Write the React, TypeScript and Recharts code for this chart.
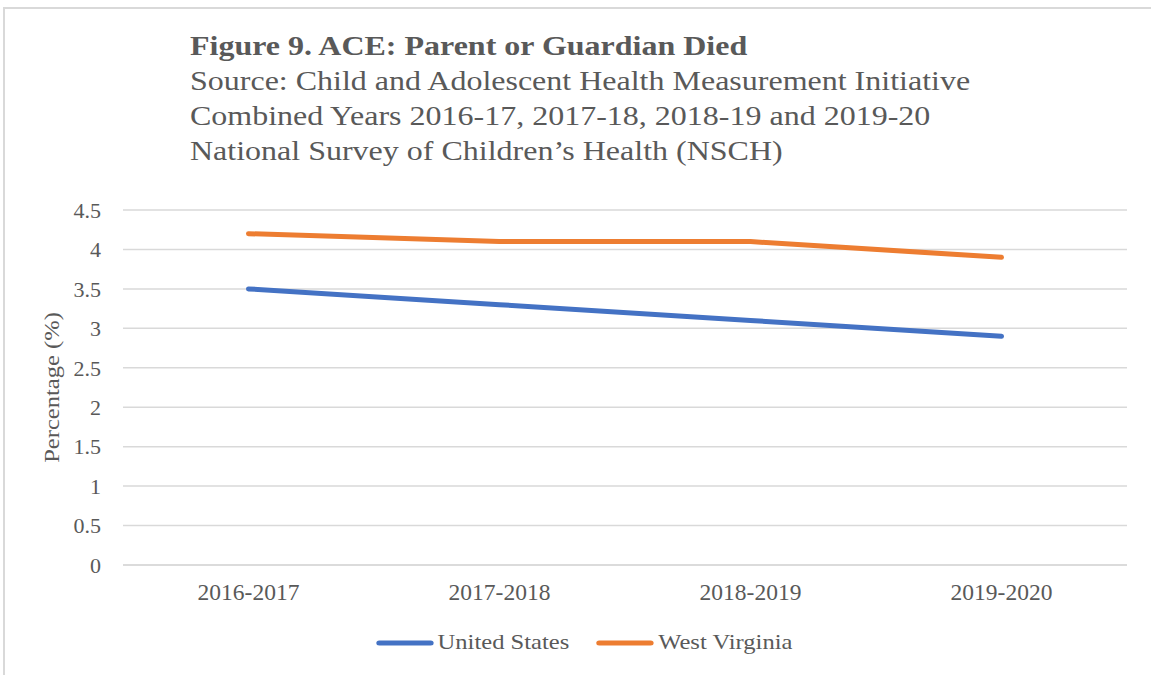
import { CartesianGrid, Line, LineChart, XAxis, YAxis } from "recharts";

const years = ["2016-2017", "2017-2018", "2018-2019", "2019-2020"];
const unitedStates = [3.5, 3.3, 3.1, 2.9];
const westVirginia = [4.2, 4.1, 4.1, 3.9];
const yTicks = [0, 0.5, 1, 1.5, 2, 2.5, 3, 3.5, 4, 4.5];

const title = "Figure 9. ACE: Parent or Guardian Died";
const subtitle = [
  "Source: Child and Adolescent Health Measurement Initiative",
  "Combined Years 2016-17, 2017-18, 2018-19 and 2019-20",
  "National Survey of Children\u2019s Health (NSCH)",
];

const series = [
  { key: "us", name: "United States", color: "#4472C4" },
  { key: "wv", name: "West Virginia", color: "#ED7D31" },
];

const data = years.map((label, i) => ({ label, us: unitedStates[i], wv: westVirginia[i] }));

const FONT = '"Liberation Serif", "Times New Roman", serif';
const TEXT = "#595959";
// the source image is a bit wider than the fonts render, stretch text to match
const STRETCH = 1.17;

function LegendRow() {
  return (
    <div
      style={{
        position: "absolute",
        left: 0,
        width: 1168,
        top: 630,
        display: "flex",
        justifyContent: "center",
        gap: 23,
        fontFamily: FONT,
        fontSize: 21,
        color: TEXT,
        transform: `scaleX(${STRETCH})`,
        transformOrigin: "584px 0",
      }}
    >
      {series.map((s) => (
        <div key={s.key} style={{ display: "flex", alignItems: "center" }}>
          <svg width={50} height={10} style={{ marginRight: 3 }}>
            <line x1={3} y1={5} x2={47} y2={5} stroke={s.color} strokeWidth={5} strokeLinecap="round" />
          </svg>
          <span>{s.name}</span>
        </div>
      ))}
    </div>
  );
}

export default function App() {
  return (
    <div style={{ position: "absolute", left: 0, top: 0, width: 1151, height: 675, overflow: "hidden", background: "#fff" }}>
      <div style={{ position: "absolute", left: 3, top: 7, width: 1200, height: 700, border: "2px solid #d9d9d9" }} />
      <div
        style={{
          position: "absolute",
          left: 190,
          top: 29,
          fontFamily: FONT,
          color: TEXT,
          fontSize: 27,
          lineHeight: "35px",
          whiteSpace: "nowrap",
          transform: "scaleX(1.185)",
          transformOrigin: "0 0",
        }}
      >
        <div style={{ fontWeight: "bold" }}>{title}</div>
        {subtitle.map((s) => (
          <div key={s}>{s}</div>
        ))}
      </div>
      <LineChart
        width={1151}
        height={675}
        data={data}
        margin={{ top: 210, right: 24, bottom: 70, left: 23 }}
        style={{ position: "absolute", left: 0, top: 0 }}
      >
        <CartesianGrid stroke="#d9d9d9" strokeWidth={1.5} vertical={false} />
        <XAxis
          dataKey="label"
          padding={{ left: 125.5, right: 125.5 }}
          axisLine={{ stroke: "#d9d9d9", strokeWidth: 1.5 }}
          tickLine={false}
          tickSize={0}
          tickMargin={18}
          height={40}
          tick={{ fontFamily: FONT, fontSize: 23.5, fill: TEXT }}
        />
        <YAxis
          width={100}
          domain={[0, 4.5]}
          ticks={yTicks}
          axisLine={false}
          tickLine={false}
          tickSize={0}
          tickMargin={22}
          tick={{ fontFamily: FONT, fontSize: 22, fill: TEXT }}
          label={({ viewBox }: any) => (
            <text
              transform={`translate(${viewBox.x + 36}, ${viewBox.y + viewBox.height / 2}) rotate(-90) scale(${STRETCH}, 1)`}
              textAnchor="middle"
              fontFamily={FONT}
              fontSize={21}
              fill={TEXT}
            >
              Percentage (%)
            </text>
          )}
        />
        {series.map((s) => (
          <Line
            key={s.key}
            dataKey={s.key}
            name={s.name}
            stroke={s.color}
            strokeWidth={5}
            strokeLinecap="round"
            dot={false}
            type="linear"
            isAnimationActive={false}
          />
        ))}
      </LineChart>
      <LegendRow />
    </div>
  );
}
